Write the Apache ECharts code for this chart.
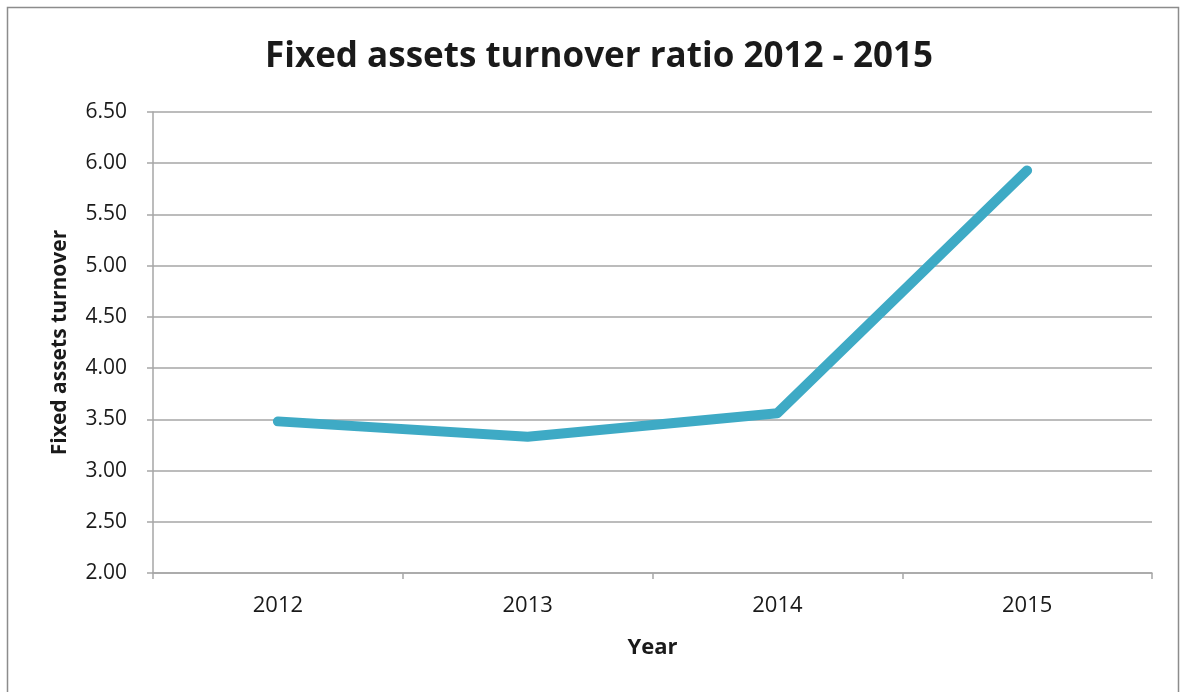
<!DOCTYPE html>
<html>
<head>
<meta charset="utf-8">
<script src="https://cdn.jsdelivr.net/npm/echarts@6/dist/echarts.min.js"></script>
<style>
  html, body { margin: 0; padding: 0; background: #fff; }
  #chart { width: 1181px; height: 692px; }
</style>
</head>
<body>
<div id="chart"></div>
<script>
// Fixed assets turnover by year
const years = ['2012', '2013', '2014', '2015'];
const turnover = [3.48, 3.33, 3.56, 5.93];

const chart = echarts.init(document.getElementById('chart'), null, { renderer: 'canvas' });
const FONT = '"Open Sans", "Noto Sans", sans-serif';
const gridColor = '#a6a6a6';

chart.setOption({
  backgroundColor: '#ffffff',
  animation: false,
  graphic: [{
    type: 'rect',
    shape: { x: 7.5, y: 7.5, width: 1171, height: 720 },
    style: { fill: 'none', stroke: '#8c8c8c', lineWidth: 1.5 },
    silent: true
  }],
  title: {
    text: 'Fixed assets turnover ratio 2012 - 2015',
    left: 594,
    top: 35,
    textAlign: 'center',
    textStyle: { fontFamily: FONT, fontSize: 35, fontWeight: 'bold', color: '#1a1a1a' }
  },
  grid: { left: 153, right: 29, top: 112, bottom: 119, containLabel: false },
  xAxis: {
    type: 'category',
    data: years,
    boundaryGap: true,
    name: 'Year',
    nameLocation: 'middle',
    nameGap: 64,
    nameTextStyle: { fontFamily: FONT, fontSize: 22, fontWeight: 'bold', color: '#1a1a1a' },
    axisLine: { lineStyle: { color: gridColor, width: 1.5 } },
    axisTick: { show: true, alignWithLabel: false, length: 6, lineStyle: { color: gridColor, width: 1.5 } },
    axisLabel: { fontFamily: FONT, fontSize: 22, color: '#1a1a1a', margin: 22 },
    splitLine: { show: false }
  },
  yAxis: {
    type: 'value',
    min: 2,
    max: 6.5,
    interval: 0.5,
    name: 'Fixed assets turnover',
    nameLocation: 'middle',
    nameGap: 82,
    nameRotate: 90,
    nameTextStyle: { fontFamily: FONT, fontSize: 21, fontWeight: 'bold', color: '#1a1a1a' },
    axisLine: { show: true, lineStyle: { color: gridColor, width: 1.5 } },
    axisTick: { show: true, length: 6, lineStyle: { color: gridColor, width: 1.5 } },
    axisLabel: {
      fontFamily: FONT, fontSize: 21, color: '#1a1a1a', margin: 26,
      formatter: v => v.toFixed(2)
    },
    splitLine: { show: true, lineStyle: { color: gridColor, width: 1.5 } }
  },
  series: [{
    type: 'line',
    data: turnover,
    symbol: 'none',
    lineStyle: { color: '#3eaac5', width: 10, cap: 'round', join: 'round' },
    itemStyle: { color: '#3eaac5' }
  }]
});
</script>
</body>
</html>
